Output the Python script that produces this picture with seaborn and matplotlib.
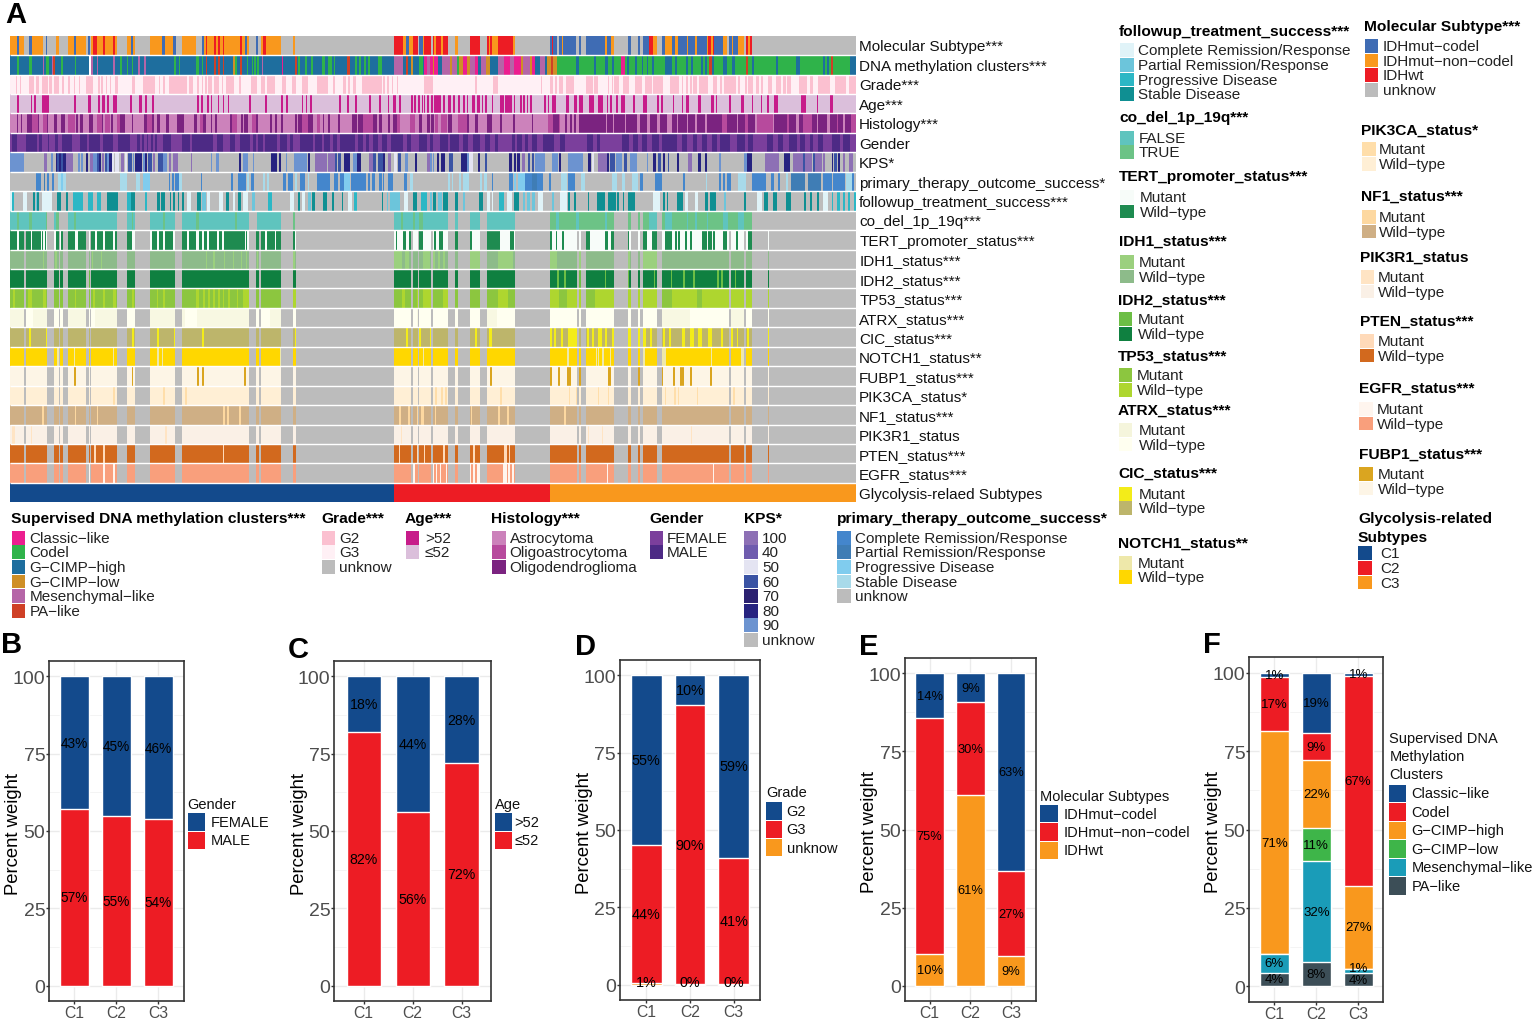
import numpy as np
import pandas as pd
import matplotlib
matplotlib.use("Agg")
import matplotlib.pyplot as plt
from matplotlib.colors import ListedColormap
from matplotlib.patches import Rectangle
from matplotlib.transforms import ScaledTranslation
import seaborn as sns

W, H = 1533, 1020
UNK = '#BCBCBC'
SPLIT = 1290          # right-hand spans are counted from this sample
FIRST, LAST = 31, 2567

ROW_LABELS = ['Molecular Subtype***', 'DNA methylation clusters***', 'Grade***', 'Age***', 'Histology***',
              'Gender', 'KPS*', 'primary_therapy_outcome_success*', 'followup_treatment_success***',
              'co_del_1p_19q***', 'TERT_promoter_status***', 'IDH1_status***', 'IDH2_status***',
              'TP53_status***', 'ATRX_status***', 'CIC_status***', 'NOTCH1_status**', 'FUBP1_status***',
              'PIK3CA_status*', 'NF1_status***', 'PIK3R1_status', 'PTEN_status***', 'EGFR_status***',
              'Glycolysis-relaed Subtypes']

# ---- sample states as (start, end, state) runs ----
MOL_L = [(31,52,'O'),(52,57,'B'),(57,72,'O'),(87,97,'B'),(97,130,'O'),(137,142,'B'),(167,178,'O'),(204,222,'O'),(222,228,'B'),(228,258,'O'),(264,269,'B'),(274,280,'O'),(280,290,'R'),(290,308,'O'),(308,315,'R'),(315,338,'O'),(338,345,'R'),(345,350,'O'),(380,394,'O'),(394,400,'B'),(400,406,'O'),(450,476,'O'),(476,486,'O'),(486,496,'B'),(496,520,'O'),(520,527,'B'),(546,588,'O'),(605,612,'B'),(612,617,'O'),(617,622,'R'),(622,642,'O'),(642,648,'R'),(648,655,'O'),(655,660,'R'),(660,668,'O'),(668,672,'R'),(672,720,'O'),(720,725,'R'),(725,735,'O'),(735,740,'B'),(740,748,'O'),(768,775,'B'),(783,790,'O'),(790,797,'R'),(797,844,'O'),(880,884,'O'),(1182,1190,'R'),(1190,1192,'O'),(1192,1208,'R'),(1208,1218,'O'),(1218,1228,'B'),(1228,1238,'O'),(1238,1254,'R'),(1258,1268,'B'),(1268,1272,'O'),(1272,1290,'R')]
MOL_R = [(0,3,'R'),(8,12,'R'),(12,18,'O'),(18,24,'R'),(24,34,'R'),(34,40,'O'),(40,54,'R'),(74,85,'O'),(120,150,'R'),(171,176,'R'),(176,180,'O'),(180,185,'R'),(185,205,'O'),(205,250,'R'),(250,256,'O'),(361,366,'B'),(366,370,'R'),(370,380,'B'),(387,396,'B'),(396,400,'O'),(400,438,'B'),(447,453,'B'),(468,525,'B'),(525,530,'O'),(530,544,'B'),(544,553,'O'),(594,604,'B'),(624,631,'B'),(640,657,'B'),(657,670,'R'),(670,680,'O'),(695,705,'B'),(705,725,'O'),(725,735,'B'),(735,745,'O'),(745,770,'B'),(770,775,'O'),(775,795,'B'),(795,800,'O'),(800,830,'B'),(830,835,'O'),(835,842,'R'),(842,848,'O'),(848,853,'R'),(853,878,'B'),(878,892,'O'),(897,905,'B'),(905,910,'O'),(910,925,'B'),(925,942,'O'),(947,953,'R'),(953,960,'O'),(960,967,'R')]

DNA_L = [(52,56,'G'),(87,97,'G'),(128,132,'M'),(137,147,'G'),(155,158,'M'),(160,164,'P'),(183,189,'G'),(225,229,'G'),(268,272,'W'),(272,278,'M'),(290,294,'M'),(338,345,'M'),(360,365,'G'),(380,384,'G'),(395,400,'G'),(415,420,'M'),(433,438,'M'),(522,527,'G'),(537,541,'G'),(588,598,'G'),(605,610,'G'),(617,622,'P'),(642,648,'P'),(655,660,'P'),(668,672,'P'),(700,705,'L'),(705,711,'G'),(720,726,'P'),(740,745,'G'),(755,760,'G'),(763,768,'G'),(770,777,'G'),(785,790,'M'),(845,850,'C'),(885,890,'P'),(895,899,'G'),(915,920,'G'),(932,940,'G'),(966,976,'G'),(985,995,'G'),(1002,1006,'G'),(1040,1050,'P'),(1065,1070,'G'),(1077,1083,'G'),(1092,1097,'G'),(1105,1110,'G'),(1135,1147,'G'),(1182,1210,'M'),(1218,1225,'P'),(1232,1240,'L'),(1258,1268,'G'),(1272,1282,'C'),(1282,1290,'M')]
DNA_R = [(0,8,'C'),(8,12,'L'),(12,24,'C'),(24,36,'H'),(36,60,'M'),(60,66,'L'),(66,80,'M'),(80,88,'G'),(88,100,'L'),(100,112,'C'),(112,120,'L'),(120,136,'M'),(136,145,'C'),(145,152,'H'),(152,168,'M'),(168,180,'L'),(180,205,'H'),(205,222,'M'),(222,240,'C'),(240,252,'M'),(252,272,'C'),(272,280,'L'),(280,300,'M'),(300,306,'L'),(306,316,'C'),(316,330,'H'),(330,345,'M'),(345,352,'H'),(352,362,'L'),(362,370,'P'),(370,382,'L'),(382,1277,'G'),(437,447,'H'),(492,497,'H'),(525,533,'H'),(545,552,'H'),(572,585,'C'),(592,598,'H'),(615,622,'H'),(635,640,'H'),(650,655,'H'),(665,672,'H'),(705,725,'H'),(735,742,'H'),(767,775,'H'),(782,788,'H'),(812,820,'H'),(825,830,'H'),(838,845,'P'),(845,852,'H'),(878,892,'H'),(905,915,'H'),(948,955,'P'),(965,972,'H'),(1037,1045,'H'),(1098,1110,'H'),(1178,1186,'H'),(1190,1198,'H'),(1204,1210,'P'),(1260,1277,'H')]

GRADE_G2_L = [(47,50),(60,64),(87,102),(107,117),(127,143),(148,155),(163,177),(187,192),(205,211),(222,226),(237,241),(258,279),(295,300),(303,310),(318,322),(330,334),(345,355),(395,405),(430,466),(477,480),(490,496),(506,560),(568,580),(592,597),(605,610),(615,620),(625,635),(643,658),(665,670),(678,703),(718,722),(753,770),(782,795),(800,825),(845,858),(877,888),(905,925),(952,985),(1000,1005),(1030,1037),(1043,1050),(1060,1067),(1087,1147),(1150,1155),(1162,1168),(1175,1180),(1190,1195),(1272,1290)]
GRADE_G2_R = [(0,8),(136,140),(190,205),(332,336),(360,368),(375,380),(388,398),(408,432),(467,488),(492,505),(535,538),(545,548),(553,568),(578,596),(615,637),(645,665),(670,700),(720,748),(755,760),(768,775),(780,785),(790,800),(806,835),(850,860),(870,875),(882,918),(925,930),(945,950),(955,968),(978,988),(992,998),(1015,1025),(1037,1052),(1058,1068),(1072,1082),(1108,1132),(1140,1148),(1165,1200),(1215,1247),(1256,1277)]

AGE_OLD_L = [(51,57),(93,97),(103,108),(127,137),(138,148),(222,228),(264,274),(293,300),(305,314),(322,328),(340,350),(390,395),(416,426),(435,440),(457,461),(592,597),(604,610),(620,626),(632,637),(653,658),(668,673),(683,688),(748,754),(795,800),(843,850),(859,865),(905,910),(917,922),(930,936),(1017,1022),(1040,1047),(1065,1071),(1106,1112),(1137,1142),(1163,1167),(1178,1188),(1198,1203),(1233,1238),(1243,1249),(1255,1260),(1265,1268),(1273,1276),(1282,1288)]
AGE_OLD_R = [(3,8),(12,32),(38,46),(54,62),(68,74),(84,90),(100,105),(110,115),(125,135),(140,150),(155,160),(165,170),(185,190),(210,222),(225,246),(252,256),(270,275),(280,285),(290,295),(300,307),(342,348),(353,358),(366,378),(407,417),(433,440),(447,458),(478,492),(503,519),(530,535),(540,546),(558,565),(572,584),(610,615),(640,650),(680,688),(692,700),(728,733),(755,760),(767,777),(805,812),(842,852),(857,862),(897,902),(932,942),(965,970),(992,997),(1012,1017),(1033,1043),(1114,1128),(1160,1164),(1200,1210)]

HIST_MID_L = [(95,118),(130,140),(205,225),(290,305),(315,330),(350,360),(440,455),(600,610),(695,712),(755,770),(905,925),(950,960),(1090,1118),(1190,1200),(1230,1245)]
HIST_DARK_L = [(50,54),(62,66),(80,95),(115,118),(140,145),(163,170),(183,195),(228,235),(240,250),(268,280),(305,310),(333,338),(360,375),(395,400),(432,440),(457,462),(470,480),(497,507),(532,552),(582,592),(610,617),(632,637),(645,652),(690,695),(722,728),(733,745),(767,773),(810,815),(825,830),(843,850),(885,890),(895,905),(925,940),(968,973),(985,990),(1015,1020),(1055,1070),(1075,1090),(1118,1132),(1137,1147),(1165,1170),(1180,1190),(1258,1265),(1282,1290)]
HIST_MID_R = [(15,25),(32,50),(85,110),(355,370),(385,390),(875,890),(945,955),(980,1030),(1070,1078),(1120,1145),(1220,1225),(1262,1277)]
HIST_DARK_R = [(3,12),(55,65),(110,118),(135,145),(172,185),(210,216),(250,255),(305,310),(370,388),(405,410),(420,425),(432,437),(447,527),(530,550),(553,585),(588,620),(630,650),(660,680),(690,710),(725,740),(745,770),(775,795),(800,825),(832,875),(892,920),(925,945),(955,975),(1033,1072),(1078,1098),(1108,1120),(1145,1160),(1165,1190),(1200,1220),(1225,1240),(1245,1262)]

GENDER_MALE_L = [(36,50),(77,110),(117,125),(143,147),(165,175),(185,215),(240,260),(268,300),(310,340),(355,390),(410,420),(425,432),(440,445),(452,458),(465,470),(490,512),(547,570),(575,640),(650,670),(690,705),(720,750),(760,768),(775,790),(795,830),(840,860),(870,880),(900,940),(945,965),(972,990),(1000,1010),(1020,1065),(1075,1090),(1098,1108),(1118,1135),(1147,1160),(1172,1210),(1220,1232),(1258,1280)]
GENDER_MALE_R = [(0,8),(30,55),(60,88),(100,115),(130,150),(165,180),(195,205),(245,255),(262,275),(285,295),(305,320),(340,372),(390,405),(470,490),(500,510),(575,598),(610,625),(635,650),(665,688),(695,740),(755,770),(790,800),(815,830),(845,860),(870,900),(920,945),(955,970),(1012,1030),(1045,1060),(1078,1100),(1110,1125),(1140,1150),(1165,1180),(1205,1230),(1240,1260)]

KPS_L = [(31,72,'90'),(132,142,'100'),(152,158,'90'),(167,172,'80'),(172,178,'60'),(178,182,'80'),(183,190,'60'),(190,197,'80'),(197,218,'100'),(235,240,'90'),(243,250,'90'),(257,264,'80'),(270,280,'100'),(280,290,'90'),(292,296,'60'),(297,303,'80'),(305,312,'100'),(315,320,'60'),(322,328,'90'),(328,335,'80'),(336,342,'50'),(345,350,'50'),(352,356,'50'),(362,373,'100'),(375,382,'50'),(383,395,'60'),(398,403,'90'),(405,425,'80'),(430,436,'90'),(436,440,'80'),(445,455,'60'),(460,465,'100'),(475,490,'60'),(490,500,'90'),(508,513,'100'),(520,535,'100'),(572,577,'100'),(632,637,'90'),(647,657,'90'),(717,722,'80'),(728,745,'90'),(758,763,'90'),(812,830,'80'),(838,843,'80'),(858,862,'90'),(882,922,'90'),(923,930,'80'),(945,980,'100'),(985,1005,'100'),(1005,1010,'60'),(1015,1022,'60'),(1032,1050,'80'),(1058,1070,'90'),(1070,1082,'80'),(1108,1118,'100'),(1120,1128,'60'),(1135,1150,'60'),(1150,1155,'80'),(1165,1172,'100'),(1183,1190,'50'),(1195,1204,'60'),(1215,1225,'90'),(1245,1250,'80'),(1280,1290,'100')]
KPS_R = [(0,5,'90'),(8,12,'90'),(22,28,'80'),(33,45,'80'),(58,70,'60'),(92,110,'80'),(110,118,'90'),(118,128,'50'),(143,150,'80'),(165,170,'60'),(237,246,'80'),(252,258,'80'),(262,270,'80'),(275,285,'100'),(293,300,'60'),(306,312,'60'),(316,344,'90'),(366,385,'90'),(388,392,'80'),(415,460,'90'),(475,482,'80'),(487,492,'50'),(503,530,'100'),(530,538,'80'),(540,555,'60'),(558,575,'90'),(582,592,'60'),(600,622,'90'),(650,655,'90'),(668,678,'80'),(685,692,'60'),(700,705,'80'),(713,718,'60'),(742,747,'80'),(775,785,'100'),(805,812,'80'),(826,832,'80'),(868,872,'90'),(942,950,'90'),(952,967,'80'),(1004,1048,'100'),(1062,1080,'80'),(1090,1120,'100'),(1120,1125,'60'),(1125,1145,'100'),(1148,1155,'60'),(1155,1175,'100'),(1178,1185,'100'),(1205,1210,'80'),(1213,1220,'60'),(1225,1230,'80'),(1240,1245,'100'),(1258,1268,'100')]

PRIMARY_L = [(108,122,'C'),(132,136,'R'),(142,148,'C'),(155,162,'C'),(174,182,'S'),(182,190,'P'),(190,197,'S'),(360,380,'S'),(407,420,'S'),(430,450,'P'),(506,511,'C'),(516,522,'C'),(526,538,'C'),(538,545,'S'),(602,607,'C'),(692,698,'C'),(713,738,'C'),(742,748,'S'),(753,763,'C'),(788,795,'S'),(800,806,'S'),(850,858,'C'),(863,880,'C'),(884,890,'S'),(900,915,'C'),(923,928,'S'),(950,990,'C'),(1002,1015,'C'),(1020,1032,'C'),(1032,1050,'P'),(1052,1097,'C'),(1105,1110,'C'),(1115,1125,'C'),(1137,1145,'C'),(1150,1153,'C'),(1165,1180,'C'),(1213,1222,'C'),(1230,1238,'S')]
PRIMARY_R = [(55,60,'S'),(65,70,'S'),(87,92,'S'),(98,118,'S'),(150,155,'S'),(163,170,'S'),(185,190,'C'),(237,250,'C'),(252,258,'P'),(265,285,'P'),(285,305,'C'),(305,322,'R'),(322,340,'C'),(357,362,'C'),(392,412,'S'),(415,435,'C'),(452,466,'S'),(545,562,'S'),(575,585,'S'),(605,625,'S'),(630,640,'C'),(675,695,'C'),(760,765,'C'),(827,832,'S'),(866,872,'C'),(880,885,'C'),(890,903,'C'),(923,948,'S'),(967,1008,'C'),(1023,1033,'C'),(1045,1050,'C'),(1068,1073,'S'),(1083,1125,'R'),(1133,1172,'R'),(1178,1205,'C'),(1210,1245,'C'),(1248,1265,'S'),(1265,1272,'C')]

FOLLOW_L = [(31,35,'C'),(35,43,'P'),(70,82,'C'),(100,105,'S'),(108,112,'R'),(112,118,'S'),(127,155,'C'),(172,183,'S'),(197,204,'S'),(218,248,'P'),(264,280,'P'),(290,304,'P'),(320,355,'S'),(380,392,'P'),(393,406,'S'),(435,440,'P'),(470,480,'S'),(484,496,'S'),(510,514,'S'),(518,526,'S'),(535,538,'S'),(545,552,'S'),(562,572,'C'),(590,602,'S'),(605,617,'R'),(620,630,'C'),(658,668,'C'),(678,688,'S'),(700,705,'C'),(715,722,'S'),(730,745,'C'),(757,765,'R'),(803,815,'P'),(870,882,'C'),(895,900,'S'),(905,915,'C'),(925,933,'R'),(935,945,'S'),(970,980,'S'),(995,1002,'S'),(1025,1030,'S'),(1045,1055,'C'),(1062,1070,'P'),(1147,1150,'S'),(1160,1165,'R'),(1170,1200,'R'),(1212,1225,'C'),(1240,1250,'S'),(1262,1280,'P')]
FOLLOW_R = [(0,5,'R'),(10,18,'S'),(25,35,'R'),(40,53,'S'),(75,85,'S'),(100,104,'R'),(147,160,'S'),(172,180,'C'),(185,190,'C'),(208,222,'P'),(230,245,'C'),(252,268,'S'),(280,285,'R'),(290,300,'R'),(305,315,'R'),(325,340,'C'),(365,372,'R'),(390,410,'C'),(415,420,'S'),(433,437,'S'),(473,478,'S'),(500,525,'S'),(533,558,'S'),(562,568,'S'),(578,583,'S'),(593,615,'S'),(670,690,'C'),(700,706,'S'),(710,715,'S'),(740,760,'S'),(765,775,'C'),(795,805,'C'),(825,835,'S'),(840,857,'S'),(882,888,'R'),(942,948,'S'),(980,995,'C'),(1003,1015,'S'),(1030,1040,'S'),(1067,1082,'S'),(1122,1128,'S'),(1140,1146,'S'),(1160,1168,'S'),(1178,1195,'C'),(1205,1210,'P'),(1222,1230,'P'),(1240,1246,'P'),(1255,1260,'P'),(1272,1277,'P')]

OBSERVED_L = [(31,73),(77,142),(163,177),(181,189),(203,258),(268,271),(274,350),(380,406),(450,526),(546,748),(768,778),(783,844),(880,889),(1182,1234),(1239,1254),(1258,1290)]
OBSERVED_R = [(0,2),(8,55),(74,85),(120,150),(170,256),(361,441),(447,453),(468,553),(594,604),(624,631),(640,680),(695,897),(903,942),(947,967),(1014,1018)]
CODEL_OBSERVED_L = [(31,142),(163,178),(204,350),(380,406),(450,526),(546,748),(770,844),(880,885),(1182,1290)]
CODEL_OBSERVED_R = [(0,55),(74,85),(120,150),(170,256),(361,553),(594,604),(624,631),(640,680),(695,967)]
CODEL_TRUE_L = [(52,56),(87,97),(137,142),(167,177),(222,228),(395,400),(490,496),(588,596),(705,710),(880,885),(1202,1210),(1238,1245),(1258,1270)]
CODEL_TRUE_R = [(361,378),(386,438),(447,525),(531,657),(680,705),(725,770),(775,795),(800,830),(835,878),(895,925),(942,967)]

TERT_WILD_L = [(31,52),(57,73),(77,93),(97,123),(127,130),(135,138),(167,178),(183,189),(204,224),(233,258),(274,284),(290,308),(314,340),(344,350),(380,395),(456,471),(476,488),(496,518),(547,562),(567,587),(598,607),(612,622),(627,652),(656,667),(672,734),(738,742),(769,778),(783,796),(800,825),(828,844),(880,885),(1188,1192),(1208,1218),(1226,1232),(1258,1268)]
TERT_WILD_R = [(5,10),(13,18),(28,40),(74,85),(120,125),(170,182),(182,210),(240,252),(361,366),(378,382),(396,402),(468,480),(525,535),(544,553),(594,598),(640,650),(665,680),(705,725),(735,740),(745,750),(765,770),(780,785),(815,830),(835,845),(848,855),(878,892),(918,925),(942,947),(955,967)]

IDH1_WILD_L = [(128,132),(165,170),(275,280),(302,306),(618,621),(640,644),(673,676),(700,703),(722,725),(738,742),(770,775),(880,884),(1182,1206),(1214,1228),(1270,1290)]
IDH1_WILD_R = [(10,15),(25,30),(38,45),(120,150),(205,250),(361,382),(447,453),(594,600),(640,680)]
IDH2_MUT_L = [(178,181),(268,271),(1234,1239),(1254,1258)]
IDH2_MUT_R = [(382,387),(403,407),(447,453),(525,528),(594,597),(672,676),(722,726),(760,765),(790,795),(862,868),(872,878),(914,919)]

TP53_W_L = [(40,46),(85,95),(130,137),(225,229),(280,286),(310,316),(340,347),(395,402),(470,475),(490,495),(588,598),(610,615),(625,630),(640,645),(655,660),(668,673),(685,690),(710,715),(730,748),(880,889),(1205,1215),(1250,1258),(1270,1290)]
TP53_M_R = [(8,40),(75,85),(120,150),(170,205),(235,256),(387,410),(468,495),(695,725),(800,815)]

ATRX_MUT_L = [(31,73),(100,142),(203,258),(285,350),(450,526),(546,555),(590,748),(810,844),(1250,1254)]
ATRX_MUT_R = [(170,200),(695,780),(903,942)]

CIC_MUT_L = [(87,93),(137,142),(395,401),(470,477),(521,526),(606,612),(885,889),(1218,1224),(1258,1263)]
CIC_MUT_R = [(0,2),(135,140),(178,186),(361,366),(372,378),(392,398),(413,441),(470,478),(487,492),(503,515),(525,530),(545,553),(594,604),(624,631),(640,647),(660,665),(700,705),(718,722),(755,765),(780,792),(805,815),(835,845),(872,878),(903,908),(920,925),(950,958),(1014,1018)]

NOTCH_MUT_L = [(172,177),(222,226),(338,342),(472,476),(486,490),(840,844),(1254,1258),(1268,1272)]
NOTCH_MUT_R = [(412,416),(497,502),(505,508),(517,522),(540,544),(640,645),(695,708),(843,847),(933,942)]

FUBP1_MUT_L = [(223,228),(395,400),(592,597),(606,612),(733,738)]
FUBP1_MUT_R = [(180,186),(361,367),(385,391),(412,423),(447,453),(533,544),(624,631),(695,700),(730,735),(750,761),(780,785),(841,846),(897,903)]
PIK3CA_MUT_L = [(340,345),(490,495),(556,561)]
PIK3CA_MUT_R = [(15,20),(33,38),(44,50),(210,215),(417,420),(437,441),(505,508),(533,538),(705,708),(733,737),(743,747),(800,805),(910,914)]
NF1_MUT_L = [(127,132),(225,229),(290,294),(668,674),(680,686),(718,723),(1197,1202),(1225,1230),(1250,1255),(1262,1272)]
NF1_MUT_R = [(14,19),(122,125),(205,210),(232,237),(403,407)]
PIK3R1_MUT_L = [(36,46),(93,97),(495,500),(1203,1207)]
PIK3R1_MUT_R = [(475,478),(515,519),(782,786)]
PTEN_MUT_L = [(283,288),(310,314),(668,672),(1196,1199),(1250,1254),(1272,1276)]
PTEN_MUT_R = [(40,44),(130,135),(222,230),(236,240)]
EGFR_MUT_L = [(178,181),(264,270),(310,314),(338,344),(1240,1246)]
EGFR_MUT_R = [(8,12),(18,22),(30,34),(48,52),(120,124),(130,135),(140,150),(220,230),(235,240),(245,252),(530,535),(848,852)]

GLYCO_L = [(31,1182,'1'),(1182,1290,'2')]
GLYCO_R = [(0,361,'2'),(361,1277,'3')]

# ---- colours ----
MOL_C = {'B': '#3F6CB4', 'O': '#F9981D', 'R': '#ED1C24'}
DNA_C = {'C': '#EC1E8F', 'G': '#2FB34A', 'H': '#1E6E9E', 'L': '#CF8F26', 'M': '#B565A7', 'P': '#CF4026', 'W': '#FFFFFF'}
KPS_C = {'100': '#8D70B5', '40': '#6F5CAE', '50': '#E4E4F2', '60': '#3A53A4', '70': '#2B2171', '80': '#262380', '90': '#6C93D0'}
PRIM_C = {'C': '#4486CC', 'R': '#3F7DB5', 'P': '#80CCEE', 'S': '#A8DAEA'}
FOLL_C = {'C': '#E0F3F8', 'R': '#6CC5DB', 'P': '#2CB7C5', 'S': '#0F8F92'}
GLY_C = {'1': '#134A8C', '2': '#ED1C24', '3': '#F9981D'}
GRADE_C = ['#FBC0D0', '#FFF0F5']
AGE_C = ['#C71C8A', '#DBBFDB']
HIST_C = ['#CC82BB', '#B74A9D', '#7B2380']
GENDER_C = ['#7B3F9C', '#4D2A85']
CODEL_C = ['#5FC4BE', '#6CC386']
TERT_C = ['#F7FCF9', '#1E8B50']
IDH1_C = ['#9BD07E', '#8DBB8A']
IDH2_C = ['#6CBE45', '#0F8040']
TP53_C = ['#8CC63F', '#AED62F']
ATRX_C = ['#F8F8E2', '#FFFFF0']
CIC_C = ['#F3EC19', '#BDB56B']
NOTCH_C = ['#EEE8AA', '#FFD700']
FUBP_C = ['#DAA520', '#FDF5E6']
PIK3CA_C = ['#FFDEAA', '#FFEFD5']
NF1_C = ['#FDD8A0', '#CFAF85']
PIK3R_C = ['#FFE4C4', '#FAF0E6']
PTEN_C = ['#FFDAB9', '#D2691E']
EGFR_C = ['#FFF5EE', '#F99F7C']


def to_hex(runs, colours):
    return [(s, e, colours[k]) for s, e, k in runs]


def flat(spans, colour):
    return [(s, e, colour) for s, e in spans]


def track(base, left=(), right=(), mask=None):
    arr = np.full(LAST, base, dtype=object)
    for s, e, c in left:
        arr[s:e] = c
    for s, e, c in right:
        arr[SPLIT + s:SPLIT + e] = c
    if mask is not None:
        keep = np.zeros(LAST, dtype=bool)
        for s, e in mask[0]:
            keep[s:e] = True
        for s, e in mask[1]:
            keep[SPLIT + s:SPLIT + e] = True
        arr[~keep] = UNK
    return arr[FIRST:]


MAIN = (OBSERVED_L, OBSERVED_R)


def binary(cols, mut_l, mut_r):
    return track(cols[1], flat(mut_l, cols[0]), flat(mut_r, cols[0]), MAIN)


rows = [
    track(UNK, to_hex(MOL_L, MOL_C), to_hex(MOL_R, MOL_C)),
    track(DNA_C['H'], to_hex(DNA_L, DNA_C), to_hex(DNA_R, DNA_C)),
    track(GRADE_C[1], flat(GRADE_G2_L, GRADE_C[0]), flat(GRADE_G2_R, GRADE_C[0])),
    track(AGE_C[1], flat(AGE_OLD_L, AGE_C[0]), flat(AGE_OLD_R, AGE_C[0])),
    track(HIST_C[0], flat(HIST_MID_L, HIST_C[1]) + flat(HIST_DARK_L, HIST_C[2]),
          flat(HIST_MID_R, HIST_C[1]) + flat(HIST_DARK_R, HIST_C[2])),
    track(GENDER_C[0], flat(GENDER_MALE_L, GENDER_C[1]), flat(GENDER_MALE_R, GENDER_C[1])),
    track(UNK, to_hex(KPS_L, KPS_C), to_hex(KPS_R, KPS_C)),
    track(UNK, to_hex(PRIMARY_L, PRIM_C), to_hex(PRIMARY_R, PRIM_C)),
    track(UNK, to_hex(FOLLOW_L, FOLL_C), to_hex(FOLLOW_R, FOLL_C)),
    track(CODEL_C[0], flat(CODEL_TRUE_L, CODEL_C[1]), flat(CODEL_TRUE_R, CODEL_C[1]),
          (CODEL_OBSERVED_L, CODEL_OBSERVED_R)),
    track(TERT_C[0], flat(TERT_WILD_L, TERT_C[1]), flat(TERT_WILD_R, TERT_C[1]), MAIN),
    binary(IDH1_C, IDH1_WILD_L, IDH1_WILD_R),
    binary(IDH2_C, IDH2_MUT_L, IDH2_MUT_R),
    track(TP53_C[0], flat(TP53_W_L, TP53_C[1]),
          [(0, 1277, TP53_C[1])] + flat(TP53_M_R, TP53_C[0]), MAIN),
    binary(ATRX_C, ATRX_MUT_L, ATRX_MUT_R),
    binary(CIC_C, CIC_MUT_L, CIC_MUT_R),
    binary(NOTCH_C, NOTCH_MUT_L, NOTCH_MUT_R),
    binary(FUBP_C, FUBP1_MUT_L, FUBP1_MUT_R),
    binary(PIK3CA_C, PIK3CA_MUT_L, PIK3CA_MUT_R),
    binary(NF1_C, NF1_MUT_L, NF1_MUT_R),
    binary(PIK3R_C, PIK3R1_MUT_L, PIK3R1_MUT_R),
    binary(PTEN_C, PTEN_MUT_L, PTEN_MUT_R),
    binary(EGFR_C, EGFR_MUT_L, EGFR_MUT_R),
    track(UNK, to_hex(GLYCO_L, GLY_C), to_hex(GLYCO_R, GLY_C)),
]

# ---- stacked bar data (bottom to top) ----
CLUSTERS = ['C1', 'C2', 'C3']
BLUE, RED, ORANGE = '#134A8C', '#ED1C24', '#F9981D'
GENDER_MALE = [57.0, 55.0, 54.0]
GENDER_FEMALE = [43.0, 45.0, 46.0]
AGE_LE52 = [82.0, 56.0, 72.0]
AGE_GT52 = [18.0, 44.0, 28.0]
GRADE_UNK = [0.6, 0.2, 0.2]
GRADE_G3 = [44.4, 90.0, 40.8]
GRADE_G2 = [55.0, 9.8, 59.0]
SUB_WT = [10.3, 61.0, 9.4]
SUB_NON = [75.4, 29.7, 27.4]
SUB_CODEL = [14.3, 9.3, 63.2]
F_PA = [4.4, 7.6, 4.3]
F_MES = [5.8, 32.2, 1.2]
F_LOW = [0.0, 10.7, 0.0]
F_HIGH = [71.1, 21.6, 26.6]
F_CODEL = [17.4, 8.6, 66.9]
F_CLASSIC = [1.3, 19.3, 1.0]

# ---- figure ----
sns.set_theme(style='white')
plt.rcParams['font.family'] = ['Liberation Sans', 'DejaVu Sans']
plt.rcParams['text.color'] = 'black'
fig = plt.figure(figsize=(W / 100, H / 100), dpi=100, facecolor='white')


def px_axes(l, r, t, b, **kw):
    return fig.add_axes([l / W, 1 - b / H, (r - l) / W, (b - t) / H], **kw)


# heatmap
all_cols = sorted({c for r in rows for c in set(r)})
index = {c: i for i, c in enumerate(all_cols)}
matrix = np.array([[index[c] for c in r] for r in rows], dtype=int)
axh = px_axes(10.3, 855.7, 36.7, 503.3)
sns.heatmap(matrix, cmap=ListedColormap(all_cols), vmin=-0.5, vmax=len(all_cols) - 0.5, cbar=False,
            xticklabels=False, yticklabels=ROW_LABELS, ax=axh)
axh.hlines(np.arange(1, len(rows)), 0, matrix.shape[1], color='white', lw=1.0)
axh.yaxis.tick_right()
axh.tick_params(axis='y', length=0, pad=2.5, labelsize=11, labelrotation=0, labelcolor='#111111')
shift = ScaledTranslation(0, -1.0 / 100, fig.dpi_scale_trans)
for t in axh.get_yticklabels():
    t.set_va('center')
    t.set_transform(t.get_transform() + shift)

# overlay for legends and panel letters
ov = fig.add_axes([0, 0, 1, 1], zorder=5)
ov.set_xlim(0, W)
ov.set_ylim(H, 0)
ov.axis('off')
ov.patch.set_alpha(0)


def legend(title, tx, ty, kx, ky, lx, labels, colours, kw=13.5, pitch=14.6, size=11, tsize=11.15):
    lines = title if isinstance(title, list) else [title]
    for i, line in enumerate(lines):
        ov.text(tx, ty + i * 18.7, line, fontsize=tsize, fontweight='bold', va='center', ha='left')
    for i, (lab, col) in enumerate(zip(labels, colours)):
        ov.add_patch(Rectangle((kx, ky + i * pitch), kw, pitch - 0.8, fc=col, ec='none'))
        ov.text(lx, ky + i * pitch + pitch / 2 - 0.2, lab, fontsize=size, va='center', ha='left', color='#222222')


MW = ['Mutant', 'Wild\u2212type']
REM = ['Complete Remission/Response', 'Partial Remission/Response', 'Progressive Disease', 'Stable Disease']
legend('followup_treatment_success***', 1119, 31.7, 1120, 44.3, 1138.5, REM, [FOLL_C[k] for k in 'CRPS'])
legend('co_del_1p_19q***', 1119, 118, 1120, 131.7, 1138.5, ['FALSE', 'TRUE'], CODEL_C)
legend('TERT_promoter_status***', 1119, 176.7, 1120, 191, 1140, MW, TERT_C)
legend('IDH1_status***', 1119, 242, 1120, 256, 1138.5, MW, IDH1_C)
legend('IDH2_status***', 1118, 300.7, 1118.5, 313.3, 1138, MW, IDH2_C)
legend('TP53_status***', 1118, 356.7, 1118.5, 369.3, 1136.5, MW, TP53_C)
legend('ATRX_status***', 1118, 411, 1118.5, 424, 1139, MW, ['#F5F5DC', ATRX_C[1]])
legend('CIC_status***', 1118, 474, 1118.5, 487.7, 1138.5, MW, CIC_C)
legend('NOTCH1_status**', 1118, 543.3, 1118.5, 556.7, 1138, MW, NOTCH_C)
legend('Molecular Subtype***', 1364.3, 27.3, 1364.7, 40, 1383,
       ['IDHmut\u2212codel', 'IDHmut\u2212non\u2212codel', 'IDHwt', 'unknow'],
       [MOL_C['B'], MOL_C['O'], MOL_C['R'], UNK])
legend('PIK3CA_status*', 1361, 130.7, 1362, 143.3, 1379, MW, PIK3CA_C)
legend('NF1_status***', 1361, 197, 1362, 211, 1379, MW, NF1_C)
legend('PIK3R1_status', 1360, 258, 1360.5, 271, 1378, MW, PIK3R_C)
legend('PTEN_status***', 1360, 321.7, 1360, 335, 1378, MW, PTEN_C)
legend('EGFR_status***', 1359, 389, 1359, 403, 1377, MW, EGFR_C)
legend('FUBP1_status***', 1358.5, 455, 1359, 468, 1378, MW, FUBP_C)
legend(['Glycolysis-related', 'Subtypes'], 1358, 519, 1358, 547.3, 1380, CLUSTERS, [GLY_C[k] for k in '123'])
legend('Supervised DNA methylation clusters***', 11, 519, 11.5, 531.7, 29.5,
       ['Classic\u2212like', 'Codel', 'G\u2212CIMP\u2212high', 'G\u2212CIMP\u2212low', 'Mesenchymal\u2212like', 'PA\u2212like'],
       [DNA_C[k] for k in 'CGHLMP'])
legend('Grade***', 321, 519, 321.5, 531.7, 339.5, ['G2', 'G3', 'unknow'], GRADE_C + [UNK])
legend('Age***', 405, 519, 405.5, 531.7, 425, ['>52', '\u226452'], AGE_C)
legend('Histology***', 491, 519, 492, 531.7, 509.5, ['Astrocytoma', 'Oligoastrocytoma', 'Oligodendroglioma'], HIST_C)
legend('Gender', 649, 519, 649.7, 531.7, 667, ['FEMALE', 'MALE'], GENDER_C)
legend('KPS*', 744, 519, 744, 531.7, 762, ['100', '40', '50', '60', '70', '80', '90', 'unknow'],
       [KPS_C[k] for k in ['100', '40', '50', '60', '70', '80', '90']] + [UNK])
legend('primary_therapy_outcome_success*', 836.7, 519, 837, 531.7, 854.7, REM + ['unknow'],
       [PRIM_C[k] for k in 'CRPS'] + [UNK])

for letter, x, y in [('A', 5, 15), ('B', 1, 645), ('C', 288, 650), ('D', 575, 647), ('E', 859, 647), ('F', 1203, 645)]:
    ov.text(x, y, letter, fontsize=21, fontweight='bold', va='center', ha='left')


def stacked(box, series, colours, names, title, lg, label_x, fs=9.5):
    ax = px_axes(*box)
    heights = np.array(series, dtype=float)
    tops = heights.cumsum(axis=0)
    for i in range(len(series) - 1, -1, -1):
        df = pd.DataFrame({'cluster': CLUSTERS, 'top': tops[i]})
        sns.barplot(data=df, x='cluster', y='top', color=colours[i], saturation=1, width=0.7, ax=ax,
                    zorder=3, order=CLUSTERS)
    bottoms = tops - heights
    for i in range(len(series)):
        for j in range(3):
            if heights[i, j] > 0:
                mid = bottoms[i, j] + heights[i, j] / 2
                if heights[i, j] < 2 and 0 < bottoms[i, j] < 10:
                    mid += 0.9
                ax.text(j, max(mid, 0.7), f'{heights[i, j]:.0f}%', ha='center', va='center',
                        fontsize=fs, color='black', zorder=6)
    ax.set_xlim(-0.6, 2.6)
    ax.set_ylim(-5, 105)
    ax.set_yticks([0, 25, 50, 75, 100])
    ax.set_yticks([12.5, 37.5, 62.5, 87.5], minor=True)
    ax.grid(True, which='major', color='#EBEBEB', lw=1.0, zorder=0)
    ax.grid(True, which='minor', axis='y', color='#F2F2F2', lw=0.6, zorder=0)
    ax.set_axisbelow(True)
    ax.set_xlabel('')
    ax.set_ylabel('Percent weight', fontsize=13.3, color='black')
    ax.yaxis.set_label_coords((label_x + 12 - box[0]) / (box[1] - box[0]), 0.495)
    ax.tick_params(axis='y', which='major', length=2, width=1, color='#333333', labelsize=14, labelcolor='#4D4D4D', pad=0.8, left=True)
    ax.tick_params(axis='y', which='minor', length=0)
    ax.tick_params(axis='x', length=2, width=1, color='#333333', labelsize=11.3, labelcolor='#4D4D4D', pad=0.8, bottom=True)
    for s in ax.spines.values():
        s.set_color('#333333')
        s.set_linewidth(1.2)
        s.set_visible(True)
    tx, tys, kx, ky, kw, pitch, lx, size = lg
    for k, line in enumerate(title):
        ov.text(tx, tys + k * 18, line, fontsize=size, va='center', ha='left', color='#111111')
    for i, name in enumerate(names):
        yy = ky + i * pitch
        ov.add_patch(Rectangle((kx, yy), kw, pitch - 1, fc=colours[len(names) - 1 - i], ec='none'))
        ov.text(lx, yy + pitch / 2 - 0.5, name, fontsize=size, va='center', ha='left', color='#111111')
    return ax


stacked((49.3, 183.6, 662, 1002), [GENDER_MALE, GENDER_FEMALE], [RED, BLUE], ['FEMALE', 'MALE'], ['Gender'],
        (187.5, 805, 188.2, 814.3, 17, 18.3, 210.7, 10.5), 10, fs=9.8)
stacked((334.3, 491, 662, 1002), [AGE_LE52, AGE_GT52], [RED, BLUE], ['>52', '\u226452'], ['Age'],
        (494.6, 805, 495.4, 814.3, 17, 18.3, 514.6, 10.5), 296, fs=10.2)
stacked((620, 760, 660.7, 1001), [GRADE_UNK, GRADE_G3, GRADE_G2], [ORANGE, RED, BLUE], ['G2', 'G3', 'unknow'], ['Grade'],
        (766, 793.3, 765.5, 803.3, 16.5, 18.3, 786.5, 10.5), 581, fs=10.4)
stacked((905.3, 1035.5, 658.7, 1002.3), [SUB_WT, SUB_NON, SUB_CODEL], [ORANGE, RED, BLUE],
        ['IDHmut\u2212codel', 'IDHmut\u2212non\u2212codel', 'IDHwt'], ['Molecular Subtypes'],
        (1039.6, 796.7, 1040, 806, 18, 18.3, 1064, 10.5), 866, fs=9.3)
stacked((1249.3, 1383.3, 658, 1003), [F_PA, F_MES, F_LOW, F_HIGH, F_CODEL, F_CLASSIC],
        ['#3C4E57', '#1A9CB8', '#3EB549', ORANGE, RED, BLUE],
        ['Classic\u2212like', 'Codel', 'G\u2212CIMP\u2212high', 'G\u2212CIMP\u2212low', 'Mesenchymal\u2212like', 'PA\u2212like'],
        ['Supervised DNA', 'Methylation', 'Clusters'],
        (1389.3, 739.3, 1389, 785.7, 17, 18.5, 1411.7, 10.5), 1210, fs=9.5)

fig.savefig('out.png', dpi=100, facecolor='white')
